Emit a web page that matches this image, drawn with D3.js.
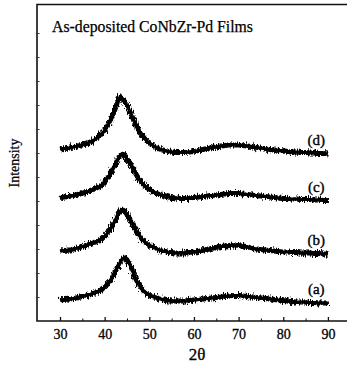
<!DOCTYPE html>
<html>
<head>
<meta charset="utf-8">
<style>
  body { margin: 0; background: #fff; }
  text { font-family: "Liberation Serif", "DejaVu Serif", serif; fill: #000; }
</style>
</head>
<body>
<svg width="347" height="365"></svg>
<script src="https://d3js.org/d3.v7.min.js"></script>
<script>
// 2-theta grid (degrees), finer around the main peak
var twoTheta = [30,31,32,33,34,35,36,37,38,39,
  40,40.5,41,41.5,42,42.5,43,43.5,44,44.5,45,45.5,46,46.5,47,47.5,48,
  49,50,51,52,53,54,55,56,57,58,59,60,61,62,63,64,65,66,67,68,69,70,
  71,72,73,74,75,76,77,78,79,80,81,82,83,84,85,86,87,88,89,90]

// intensity (arbitrary units, curves already offset as in the figure)
var filmA = [21,21.5,22,22.5,23.5,24.5,25.5,27,28.5,30.5,
  33.5,36,39,42,46,50.5,55,59,62,63,61,57.5,53,47.5,42,37.5,34,
  29,26,24,22.5,21.5,20.5,20,20,20,20,20.5,21,21.5,22,22.5,23,23.5,24,24.5,25,25.5,25.5,
  25,24.5,24,23.5,23,22.5,22,21.5,21,20.5,20,19.5,19,19,19,18.5,18.5,18,18,18]
var filmB = [70,70.5,71,72,73,74.5,76,77.5,79,81,
  84.5,87,90,93.5,97.5,102,106.5,110,111,109.5,106.5,103,99,95,91,87,84,
  79,76,73.5,71.5,70,69,68.5,68,68,68,68.5,69,69.5,70.5,71.5,72.5,73.5,74.5,75,75.5,76,75.5,
  75,74,73,72,71.5,71,70.5,70,69.5,69,69,68.5,68.5,68,68,68,67.5,67.5,67,67]
var filmC = [123.5,124,124.5,125.5,126.5,127.5,129,130.5,132.5,135,
  139,142,145,149,153,157.5,162,165.5,167,165,162,158.5,155,151,147,143.5,140,
  135,131.5,129,127,125.5,124.5,123.5,123,122.5,122.5,123,123.5,124,124.5,125,125.5,126,126.5,127,127.5,127.5,127.5,
  127,126.5,126,125.5,125,124.5,124,123.5,123,122.5,122.5,122,122,121.5,121.5,121.5,121,121,120.5,120.5]
var filmD = [172,172.5,173,174,175,176,177.5,179.5,182,185.5,
  190.5,194,198,202.5,208,214,221,224,222,219,215.5,211,206,201,196,192,188,
  182,178,175,172.5,171,170,169,168.5,168.5,168.5,169,169.5,170.5,171.5,172.5,173.5,174,175,175.5,176,176,176,
  175.5,175,174.5,173.5,173,172,171.5,171,170.5,170,169.5,169,169,168.5,168.5,168,168,167.5,167.5,167]

var seriesNames = ["(a)", "(b)", "(c)", "(d)"]
var seriesValues = [filmA, filmB, filmC, filmD]
var xTickValues = [30, 40, 50, 60, 70, 80, 90]

var svg = d3.select('svg')
var mLeft = 37, mRight = 348, mTop = 4.5, mBottom = 321

var x = d3.scaleLinear().domain([24.85, 94.5]).range([mLeft, mRight])
var y = d3.scaleLinear().domain([0, 316.5]).range([mBottom, mTop])

// ragged edge filter to mimic the noisy scan
var defs = svg.append('defs')
var f = defs.append('filter').attr('id', 'rough')
  .attr('filterUnits', 'userSpaceOnUse')
  .attr('x', 0).attr('y', 0).attr('width', 347).attr('height', 365)
f.append('feTurbulence').attr('type', 'fractalNoise')
  .attr('baseFrequency', '1.4 0.25').attr('numOctaves', 2).attr('seed', 7).attr('result', 'n')
f.append('feDisplacementMap').attr('in', 'SourceGraphic').attr('in2', 'n')
  .attr('scale', 7).attr('xChannelSelector', 'R').attr('yChannelSelector', 'G')

// frame
svg.append('path')
  .attr('d', 'M' + mRight + ',' + mTop + 'H' + mLeft + 'V' + mBottom + 'H' + mRight)
  .attr('fill', 'none').attr('stroke', '#111').attr('stroke-width', 1.6)

// x axis (inward ticks)
var xAxis = svg.append('g').attr('transform', 'translate(0,' + mBottom + ')')
  .call(d3.axisBottom(x).tickValues(xTickValues).tickSize(-4).tickPadding(8).tickFormat(d3.format('d')))
xAxis.select('.domain').remove()
xAxis.selectAll('line').attr('stroke', '#111').attr('stroke-width', 1.3)
xAxis.selectAll('text').attr('font-size', 14).attr('font-family', '"Liberation Serif", serif')
  .attr('stroke', '#000').attr('stroke-width', 0.3)
svg.append('g').attr('transform', 'translate(0,' + mBottom + ')')
  .call(d3.axisBottom(x).tickValues([35, 45, 55, 65, 75, 85]).tickSize(-2.5).tickFormat(''))
  .call(function (g) { g.select('.domain').remove() })
  .selectAll('line').attr('stroke', '#111')

// small ticks on the intensity axis
svg.append('g').attr('transform', 'translate(' + mLeft + ',0)')
  .call(d3.axisLeft(y).tickValues([24, 48, 72, 96, 120, 144, 168, 192, 216, 240, 264, 288]).tickSize(-2.5).tickFormat(''))
  .call(function (g) { g.select('.domain').remove() })
  .selectAll('line').attr('stroke', '#333')

var line = d3.line()
  .x(function (d, i) { return x(twoTheta[i]) })
  .y(function (d) { return y(d) })
  .curve(d3.curveMonotoneX)

// solid core plus a displaced, noisy envelope
var core = svg.append('g')
var traces = svg.append('g').attr('filter', 'url(#rough)')
seriesValues.forEach(function (vals) {
  core.append('path').attr('d', line(vals))
    .attr('fill', 'none').attr('stroke', '#000').attr('stroke-width', 3.2)
  traces.append('path').attr('d', line(vals))
    .attr('fill', 'none').attr('stroke', '#000').attr('stroke-width', 5)
    .attr('stroke-linejoin', 'round')
})

// curve labels, just above the end of each trace
seriesValues.forEach(function (vals, i) {
  svg.append('text')
    .attr('x', x(87.4)).attr('y', y(vals[vals.length - 1]) - 9)
    .attr('text-anchor', 'middle').attr('font-size', 15)
    .attr('stroke', '#000').attr('stroke-width', 0.35)
    .text(seriesNames[i])
})

svg.append('text').attr('x', 52).attr('y', 32).attr('font-size', 16)
  .attr('textLength', 201).attr('lengthAdjust', 'spacingAndGlyphs')
  .attr('stroke', '#000').attr('stroke-width', 0.25)
  .text('As-deposited CoNbZr-Pd Films')

svg.append('text').attr('transform', 'translate(19,163) rotate(-90)')
  .attr('text-anchor', 'middle').attr('font-size', 14)
  .attr('stroke', '#000').attr('stroke-width', 0.25).text('Intensity')

svg.append('text').attr('x', 197).attr('y', 360).attr('text-anchor', 'middle')
  .attr('font-size', 17).attr('stroke', '#000').attr('stroke-width', 0.3).text('2θ')
</script>
</body>
</html>
